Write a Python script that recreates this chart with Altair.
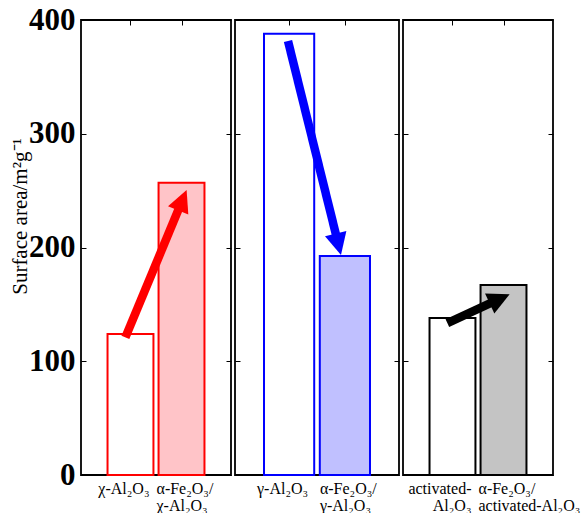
import math
import altair as alt
import pandas as pd

# ---------------- data ----------------
support_labels = ["χ-Al₂O₃", "γ-Al₂O₃", "activated-\nAl₂O₃"]
composite_labels = ["α-Fe₂O₃/\nχ-Al₂O₃", "α-Fe₂O₃/\nγ-Al₂O₃", "α-Fe₂O₃/\nactivated-Al₂O₃"]
support_area = [124, 388, 138]
composite_area = [257, 192.5, 167]

# arrows: position in bar-index units (0 = first bar, 1 = second bar), value in m2/g
arrow_start_pos = [-0.1, -0.02, -0.1]
arrow_start_val = [121, 381.5, 133.5]
arrow_tip_pos = [1.1, 0.93, 1.12]
arrow_tip_val = [250.5, 193.5, 159]

y_ticks = [0, 100, 200, 300, 400]
y_title = "Surface area/m²g⁻¹"

# ---------------- style / layout ----------------
edge_colors = ["#ff0000", "#0000ff", "#000000"]
fill_colors = ["#ffc4c8", "#c0c0ff", "#c4c4c4"]
panel_widths = [150, 164, 150]
PLOT_H = 455
PAD_IN = 0.1
PAD_OUT = 0.52
SERIF = "Liberation Serif"
HEAD_PATH = "M0,0L-0.5,1L0.5,1Z"
HEAD_SIZE = 1936
SHAFT_BACK = 14

half = PAD_OUT + (1 - PAD_IN) / 2
idx_domain = [-half, 1 + half]
first_test = "indexof(datum.label, 'Fe') < 0"


def panel(i):
    w = panel_widths[i]
    step = w / (2 - PAD_IN + 2 * PAD_OUT)
    ky = PLOT_H / 400
    bars = pd.DataFrame({
        "label": [support_labels[i], composite_labels[i]],
        "area": [support_area[i], composite_area[i]],
        "kind": ["support", "composite"],
    })
    sx, sy = arrow_start_pos[i], arrow_start_val[i]
    tx, ty = arrow_tip_pos[i], arrow_tip_val[i]
    dx = (tx - sx) * step
    dy = (ty - sy) * ky
    length = math.hypot(dx, dy)
    f = 1 - SHAFT_BACK / length
    ang = math.degrees(math.atan2(dx, dy)) % 360
    arrow = pd.DataFrame({
        "x0": [sx], "y0": [sy],
        "x1": [sx + (tx - sx) * f], "y1": [sy + (ty - sy) * f],
        "xt": [tx], "yt": [ty], "ang": [ang],
    })

    yscale = alt.Scale(domain=[0, 400], nice=False, zero=True)
    if i == 0:
        yaxis = alt.Axis(orient="left", offset=-5, tickSize=5, domain=False, grid=False,
                         values=y_ticks, labelFont=SERIF, labelFontSize=31,
                         labelFontWeight="bold", labelPadding=6, labelColor="black",
                         tickColor="black", title=y_title, titleFont=SERIF,
                         titleFontSize=21, titleFontWeight="normal", titleColor="black",
                         titlePadding=-2, titleY=196)
    else:
        yaxis = alt.Axis(orient="left", offset=-5, tickSize=5, domain=False, grid=False,
                         values=y_ticks, labels=False, tickColor="black", title=None)

    xaxis = alt.Axis(orient="bottom", title=None, offset=-5, tickSize=5, domain=False,
                     labelAngle=0, labelExpr="split(datum.label, '\\n')",
                     labelFont=SERIF, labelFontSize=16, labelLineHeight=17,
                     labelPadding=5, labelColor="black", tickColor="black",
                     labelBaseline="top",
                     labelAlign={"condition": {"test": first_test, "value": "right"}, "value": "left"},
                     labelOffset={"condition": {"test": first_test, "value": 19}, "value": -25})

    bar_chart = alt.Chart(bars).mark_bar(strokeWidth=2).encode(
        x=alt.X("label:N", sort=None,
                scale=alt.Scale(paddingInner=PAD_IN, paddingOuter=PAD_OUT), axis=xaxis),
        y=alt.Y("area:Q", scale=yscale, axis=yaxis),
        fill=alt.Fill("kind:N", scale=alt.Scale(domain=["support", "composite"],
                                                range=["#ffffff", fill_colors[i]]), legend=None),
        stroke=alt.value(edge_colors[i]),
    )

    iscale = alt.Scale(domain=idx_domain, nice=False, zero=False)
    shaft = alt.Chart(arrow).mark_rule(strokeWidth=8.5, color=edge_colors[i], strokeCap="butt").encode(
        x=alt.X("x0:Q", scale=iscale,
                axis=alt.Axis(orient="top", offset=-5, tickSize=5, values=[0, 1], labels=False,
                              domain=False, grid=False, title=None, tickColor="black")),
        x2="x1:Q",
        y=alt.Y("y0:Q", scale=yscale,
                axis=alt.Axis(orient="right", offset=-5, tickSize=5, values=y_ticks, labels=False,
                              domain=False, grid=False, title=None, tickColor="black")),
        y2="y1:Q",
    )
    head = alt.Chart(arrow).mark_point(shape=HEAD_PATH, size=HEAD_SIZE, filled=True, opacity=1,
                                       color=edge_colors[i], strokeWidth=0).encode(
        x=alt.X("xt:Q", scale=iscale, axis=None),
        y=alt.Y("yt:Q", scale=yscale, axis=None),
        angle=alt.Angle("ang:Q", scale=None),
    )
    return (alt.layer(bar_chart, shaft, head)
            .resolve_scale(x="independent")
            .resolve_axis(x="independent", y="independent")
            .properties(width=w, height=PLOT_H))


chart = (alt.hconcat(*[panel(i) for i in range(3)], spacing=0)
         .resolve_scale(fill="independent")
         .properties(padding={"left": 8, "top": 3, "right": 2, "bottom": 0},
                     background="white")
         .configure_view(stroke="black", strokeWidth=1.8))

chart.save("out.html", embed_options={"renderer": "svg", "actions": False})
